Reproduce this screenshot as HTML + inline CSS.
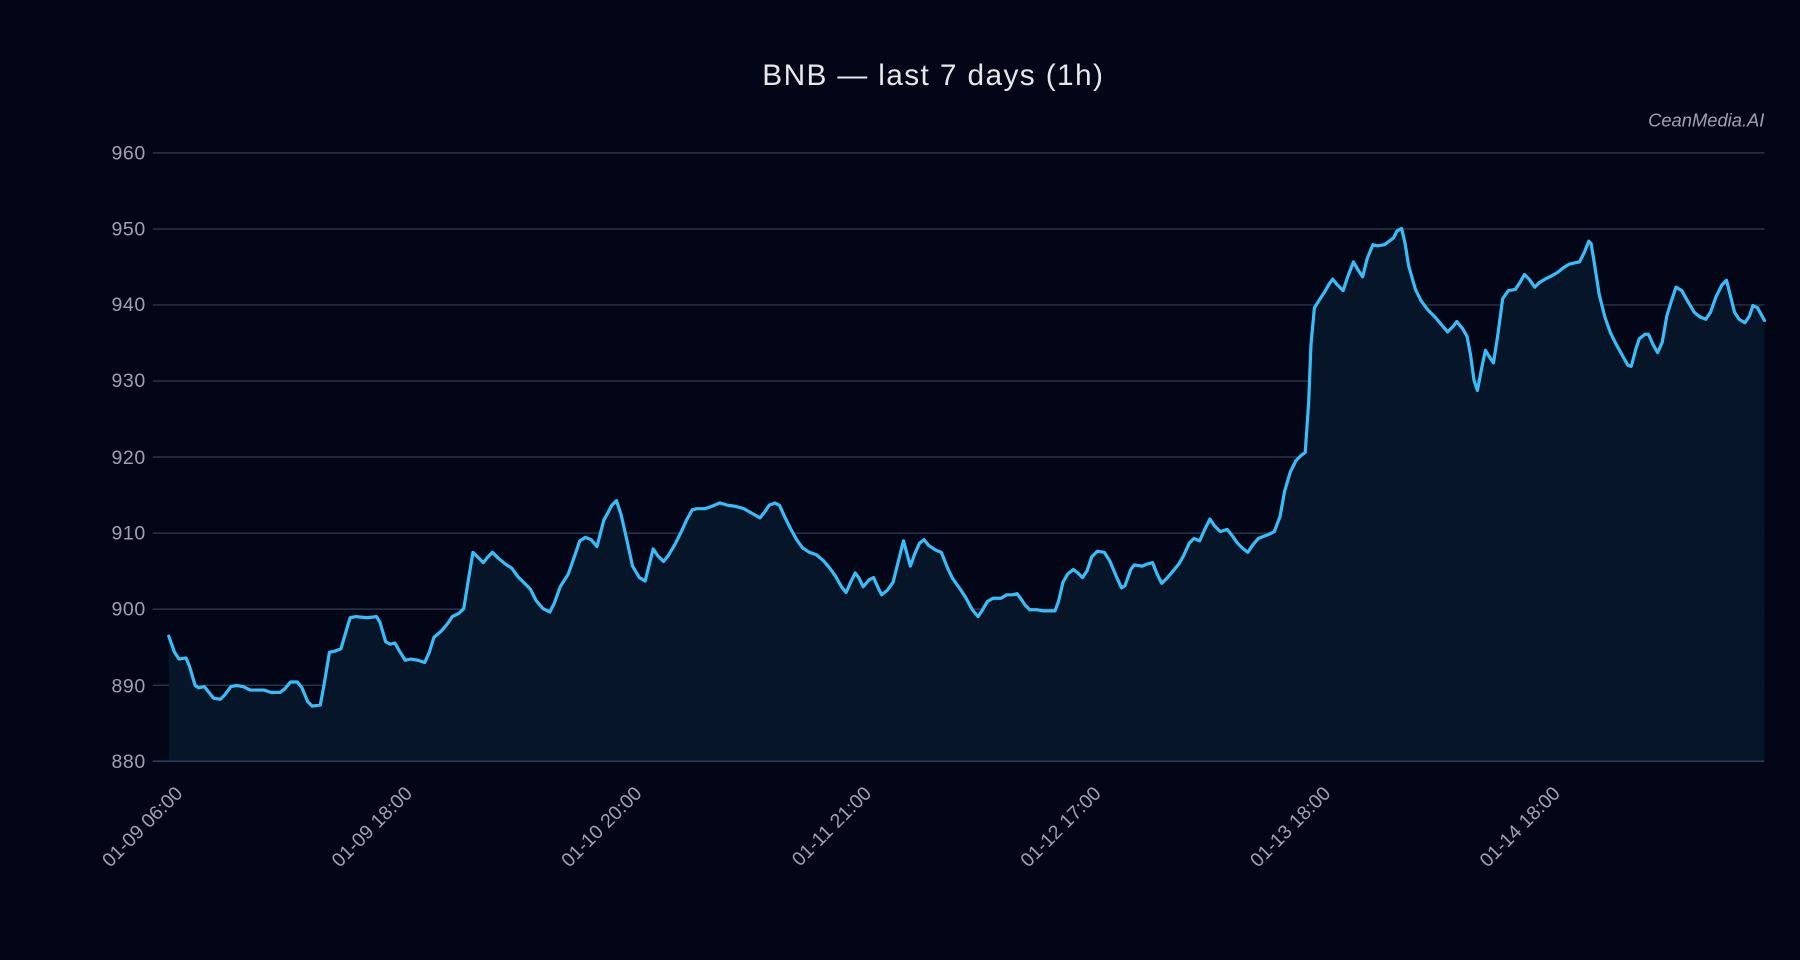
<!DOCTYPE html>
<html><head><meta charset="utf-8"><style>
html,body{margin:0;padding:0;background:#020617;}
svg{display:block;}
text{font-family:"Liberation Sans",sans-serif;}
</style></head><body>
<svg width="1800" height="960" viewBox="0 0 1568 836" xmlns="http://www.w3.org/2000/svg">
<rect width="1568" height="836" fill="#020617"/>
<text x="813" y="74" text-anchor="middle" font-size="26" letter-spacing="1.2" fill="#e5e7eb">BNB — last 7 days (1h)</text>
<text x="1537" y="110" text-anchor="end" font-size="16" font-style="italic" fill="#9ca3af">CeanMedia.AI</text>
<g stroke="#2b3446" stroke-width="1.3">
<line x1="133" y1="133" x2="1537" y2="133"/>
<line x1="133" y1="199.3" x2="1537" y2="199.3"/>
<line x1="133" y1="265.5" x2="1537" y2="265.5"/>
<line x1="133" y1="331.8" x2="1537" y2="331.8"/>
<line x1="133" y1="398" x2="1537" y2="398"/>
<line x1="133" y1="464.3" x2="1537" y2="464.3"/>
<line x1="133" y1="530.5" x2="1537" y2="530.5"/>
<line x1="133" y1="596.8" x2="1537" y2="596.8"/>
</g>
<g font-size="17" fill="#9ca3af" text-anchor="end" letter-spacing="0.5">
<text x="127" y="139">960</text><text x="127" y="205">950</text><text x="127" y="271">940</text><text x="127" y="337">930</text><text x="127" y="404">920</text><text x="127" y="470">910</text><text x="127" y="536">900</text><text x="127" y="603">890</text><text x="127" y="669">880</text>
</g>
<polygon fill="#061528" points="147,663 147,554 152,568 156,574 162,573 165,580 170,597 173,599 178,598 182,603 186,608 192,609 196,605 201,598 206,597 212,598 218,601 224,601 230,601 236,603 244,603 248,600 253,594 259,594 263,599 268,611 272,615 279,614 282,598 287,568 292,567 297,565 302,548 305,538 310,537 320,538 328,537 331,542 336,559 340,561 344,560 348,567 353,575 358,574 364,575 370,577 374,568 378,555 384,550 390,543 394,537 400,534 404,530 408,505 412,481 416,485 421,490 425,485 429,481 434,486 440,491 446,495 451,502 457,508 462,513 467,523 473,530 479,533 483,525 488,511 495,500 502,480 505,471 510,468 515,470 520,476 526,453 533,440 537,436 541,448 546,470 551,493 557,503 562,506 566,490 569,478 573,484 578,489 582,484 588,474 594,462 598,453 603,444 607,443 614,443 620,441 627,438 634,440 641,441 648,443 655,447 662,451 666,446 670,440 675,438 679,440 684,451 689,461 694,470 699,477 705,481 711,483 717,488 723,495 728,502 733,511 737,516 741,507 745,499 748,503 752,511 757,505 761,503 765,512 768,518 773,514 778,507 783,487 787,471 793,493 797,482 801,473 805,470 809,475 815,479 820,481 826,496 830,504 835,511 841,520 847,531 852,537 856,531 860,524 865,521 872,521 877,518 882,518 886,517 889,521 893,527 897,531 903,531 909,532 914,532 919,532 922,524 926,507 930,500 935,496 939,499 943,503 947,497 951,485 956,480 962,481 967,489 972,501 977,512 980,510 985,496 988,492 995,493 1000,491 1004,490 1008,500 1012,508 1017,503 1023,496 1027,491 1031,484 1036,473 1040,469 1045,471 1050,460 1054,452 1058,458 1063,463 1069,461 1073,466 1078,473 1083,478 1087,481 1091,475 1096,469 1101,467 1106,465 1110,463 1115,450 1119,428 1124,411 1129,401 1133,397 1137,394 1140,350 1142,300 1145,268 1150,260 1154,254 1158,247 1161,243 1165,248 1170,253 1174,241 1179,228 1183,235 1187,241 1191,225 1196,213 1200,214 1206,213 1210,210 1214,207 1217,201 1221,199 1224,212 1227,231 1233,252 1238,262 1244,270 1250,276 1256,283 1261,289 1266,284 1269,280 1274,286 1278,293 1281,309 1284,331 1287,340 1291,319 1294,305 1297,310 1301,316 1305,290 1309,260 1314,253 1320,252 1324,246 1328,239 1332,243 1337,250 1341,246 1346,243 1352,240 1357,237 1362,233 1367,230 1371,229 1376,228 1380,220 1384,210 1386,212 1389,230 1393,256 1398,276 1403,290 1408,300 1413,309 1418,318 1421,319 1425,304 1428,295 1433,291 1436,291 1440,300 1444,307 1448,298 1452,275 1456,262 1460,250 1465,253 1470,262 1476,272 1481,276 1486,278 1490,272 1495,258 1500,248 1504,244 1507,256 1511,272 1515,278 1520,281 1524,275 1527,266 1531,268 1537,279 1537,663"/>
<line x1="133" y1="663" x2="1537" y2="663" stroke="#2b3a50" stroke-width="1.5"/>
<polyline fill="none" stroke="#38bdf8" stroke-width="2.8" stroke-linejoin="round" stroke-linecap="round" points="147,554 152,568 156,574 162,573 165,580 170,597 173,599 178,598 182,603 186,608 192,609 196,605 201,598 206,597 212,598 218,601 224,601 230,601 236,603 244,603 248,600 253,594 259,594 263,599 268,611 272,615 279,614 282,598 287,568 292,567 297,565 302,548 305,538 310,537 320,538 328,537 331,542 336,559 340,561 344,560 348,567 353,575 358,574 364,575 370,577 374,568 378,555 384,550 390,543 394,537 400,534 404,530 408,505 412,481 416,485 421,490 425,485 429,481 434,486 440,491 446,495 451,502 457,508 462,513 467,523 473,530 479,533 483,525 488,511 495,500 502,480 505,471 510,468 515,470 520,476 526,453 533,440 537,436 541,448 546,470 551,493 557,503 562,506 566,490 569,478 573,484 578,489 582,484 588,474 594,462 598,453 603,444 607,443 614,443 620,441 627,438 634,440 641,441 648,443 655,447 662,451 666,446 670,440 675,438 679,440 684,451 689,461 694,470 699,477 705,481 711,483 717,488 723,495 728,502 733,511 737,516 741,507 745,499 748,503 752,511 757,505 761,503 765,512 768,518 773,514 778,507 783,487 787,471 793,493 797,482 801,473 805,470 809,475 815,479 820,481 826,496 830,504 835,511 841,520 847,531 852,537 856,531 860,524 865,521 872,521 877,518 882,518 886,517 889,521 893,527 897,531 903,531 909,532 914,532 919,532 922,524 926,507 930,500 935,496 939,499 943,503 947,497 951,485 956,480 962,481 967,489 972,501 977,512 980,510 985,496 988,492 995,493 1000,491 1004,490 1008,500 1012,508 1017,503 1023,496 1027,491 1031,484 1036,473 1040,469 1045,471 1050,460 1054,452 1058,458 1063,463 1069,461 1073,466 1078,473 1083,478 1087,481 1091,475 1096,469 1101,467 1106,465 1110,463 1115,450 1119,428 1124,411 1129,401 1133,397 1137,394 1140,350 1142,300 1145,268 1150,260 1154,254 1158,247 1161,243 1165,248 1170,253 1174,241 1179,228 1183,235 1187,241 1191,225 1196,213 1200,214 1206,213 1210,210 1214,207 1217,201 1221,199 1224,212 1227,231 1233,252 1238,262 1244,270 1250,276 1256,283 1261,289 1266,284 1269,280 1274,286 1278,293 1281,309 1284,331 1287,340 1291,319 1294,305 1297,310 1301,316 1305,290 1309,260 1314,253 1320,252 1324,246 1328,239 1332,243 1337,250 1341,246 1346,243 1352,240 1357,237 1362,233 1367,230 1371,229 1376,228 1380,220 1384,210 1386,212 1389,230 1393,256 1398,276 1403,290 1408,300 1413,309 1418,318 1421,319 1425,304 1428,295 1433,291 1436,291 1440,300 1444,307 1448,298 1452,275 1456,262 1460,250 1465,253 1470,262 1476,272 1481,276 1486,278 1490,272 1495,258 1500,248 1504,244 1507,256 1511,272 1515,278 1520,281 1524,275 1527,266 1531,268 1537,279"/>
<g font-size="17" fill="#9ca3af" text-anchor="end">
<text transform="translate(160,692) rotate(-45)">01-09 06:00</text>
<text transform="translate(360,692) rotate(-45)">01-09 18:00</text>
<text transform="translate(560,692) rotate(-45)">01-10 20:00</text>
<text transform="translate(760,692) rotate(-45)">01-11 21:00</text>
<text transform="translate(960,692) rotate(-45)">01-12 17:00</text>
<text transform="translate(1160,692) rotate(-45)">01-13 18:00</text>
<text transform="translate(1360,692) rotate(-45)">01-14 18:00</text>
</g>
</svg>
</body></html>
